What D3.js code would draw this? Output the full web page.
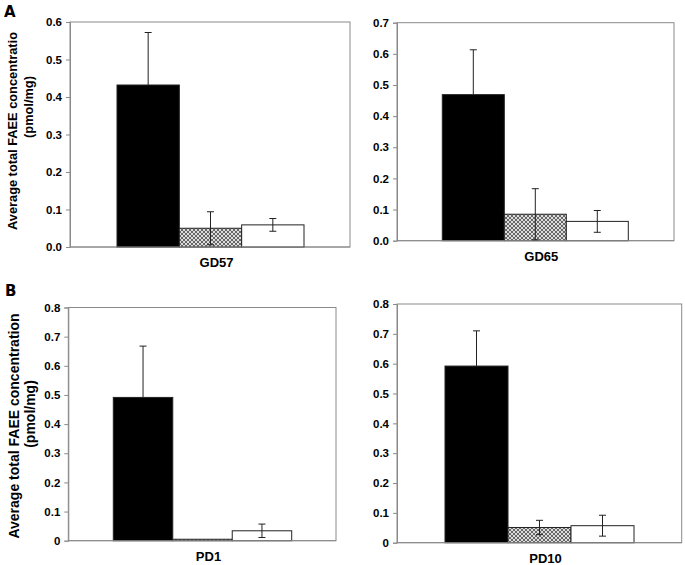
<!DOCTYPE html>
<html>
<head>
<meta charset="utf-8">
<script src="https://cdn.jsdelivr.net/npm/d3@7"></script>
<style>
  body { margin: 0; background: #fff; }
  text { font-family: "Liberation Sans", Arial, sans-serif; font-weight: 700; fill: #000; }
</style>
</head>
<body>
<svg id="chart"></svg>
<script>
// Data
const categories = ["GD57", "GD65", "PD1", "PD10"];
const groups = ["black", "hatch", "white"];
const blackMeans = [0.432, 0.469, 0.4915, 0.592];
const blackErr   = [0.140, 0.144, 0.176, 0.118];
const hatchMeans = [0.050, 0.085, 0.005, 0.051];
const hatchErr   = [0.044, 0.082, 0.000, 0.024];
const whiteMeans = [0.059, 0.062, 0.034, 0.057];
const whiteErr   = [0.017, 0.035, 0.023, 0.035];
const yMax = [0.6, 0.7, 0.8, 0.8];
const yTickStep = 0.1;

const width = 685, height = 565;
const svg = d3.select("#chart").attr("width", width).attr("height", height);

// hatch pattern for the middle bars
const defs = svg.append("defs");
const pat = defs.append("pattern")
    .attr("id", "hatch")
    .attr("patternUnits", "userSpaceOnUse")
    .attr("width", 4).attr("height", 4);
pat.append("rect").attr("width", 4).attr("height", 4).attr("fill", "#dcdcdc");
pat.append("path")
    .attr("d", "M0,0 L4,4 M4,0 L0,4")
    .attr("stroke", "#5a5a5a").attr("stroke-width", 0.9);

// panel layout (frame box and bar span)
const panels = [
    { left: 70,  top: 22,    right: 350,   bottom: 247,   bx0: 117,   bx1: 304,   fmt: "A" },
    { left: 397, top: 22.7,  right: 674,   bottom: 240.7, bx0: 442.3, bx1: 628.3, fmt: "A" },
    { left: 68.3, top: 307.5, right: 336,  bottom: 540.7, bx0: 113.3, bx1: 291.7, fmt: "B" },
    { left: 397, top: 304,   right: 681.7, bottom: 542.7, bx0: 445,   bx1: 634,   fmt: "B" }
];

const frameColor = "#8a8a8a";

panels.forEach(function(p, i) {
    const g = svg.append("g").attr("class", "panel");

    const y = d3.scaleLinear().domain([0, yMax[i]]).range([p.bottom, p.top]);
    const x = d3.scaleBand().domain(groups).range([p.bx0, p.bx1]).padding(0);

    // frame
    g.append("rect")
        .attr("x", p.left).attr("y", p.top)
        .attr("width", p.right - p.left).attr("height", p.bottom - p.top)
        .attr("fill", "none").attr("stroke", frameColor).attr("stroke-width", 1);

    // y axis
    const ticks = d3.range(0, yMax[i] + 1e-9, yTickStep);
    const fmt = p.fmt === "A" ? d3.format(".1f") : (d => d === 0 ? "0" : d3.format(".1f")(d));
    const axis = d3.axisLeft(y).tickValues(ticks).tickSize(4).tickPadding(4).tickFormat(fmt);
    const ag = g.append("g").attr("transform", `translate(${p.left},0)`).call(axis);
    ag.select(".domain").attr("stroke", frameColor);
    ag.selectAll(".tick line").attr("stroke", frameColor);
    ag.selectAll(".tick text")
        .style("font-family", "'Liberation Sans', Arial, sans-serif")
        .style("font-weight", "700").style("font-size", "11.5px").attr("fill", "#000");

    const rows = [
        { key: "black", v: blackMeans[i], e: blackErr[i], fill: "#000" },
        { key: "hatch", v: hatchMeans[i], e: hatchErr[i], fill: "url(#hatch)" },
        { key: "white", v: whiteMeans[i], e: whiteErr[i], fill: "#fff" }
    ];

    g.selectAll(".bar").data(rows).enter().append("rect")
        .attr("class", "bar")
        .attr("x", d => x(d.key))
        .attr("y", d => y(d.v))
        .attr("width", x.bandwidth())
        .attr("height", d => y(0) - y(d.v))
        .attr("fill", d => d.fill)
        .attr("stroke", "#222").attr("stroke-width", 1);

    // bottom axis line on top of bars
    g.append("line")
        .attr("x1", p.left).attr("x2", p.right)
        .attr("y1", p.bottom).attr("y2", p.bottom)
        .attr("stroke", frameColor);

    // error bars (lower half hidden inside the black bars)
    const eb = g.selectAll(".err").data(rows.filter(d => d.e > 0)).enter().append("g").attr("class", "err");
    const cx = d => x(d.key) + x.bandwidth() / 2;
    const lowVal = d => d.key === "black" ? d.v : Math.max(0, d.v - d.e);
    eb.append("line")
        .attr("x1", cx).attr("x2", cx)
        .attr("y1", d => y(lowVal(d))).attr("y2", d => y(d.v + d.e))
        .attr("stroke", "#222").attr("stroke-width", 1);
    eb.append("line")
        .attr("x1", d => cx(d) - 3.5).attr("x2", d => cx(d) + 3.5)
        .attr("y1", d => y(d.v + d.e)).attr("y2", d => y(d.v + d.e))
        .attr("stroke", "#222").attr("stroke-width", 1);
    eb.filter(d => d.key !== "black" && d.v - d.e > 0.003).append("line")
        .attr("x1", d => cx(d) - 3.5).attr("x2", d => cx(d) + 3.5)
        .attr("y1", d => y(d.v - d.e)).attr("y2", d => y(d.v - d.e))
        .attr("stroke", "#222").attr("stroke-width", 1);

    // category label
    g.append("text")
        .attr("x", (p.bx0 + p.bx1) / 2 + 6)
        .attr("y", p.bottom + 20)
        .attr("text-anchor", "middle")
        .style("font-size", "13px")
        .text(categories[i]);
});

// panel letters
svg.append("text").attr("x", 4).attr("y", 17)
    .style("font-family", "'DejaVu Sans', sans-serif").style("font-size", "15px").style("font-weight", "900")
    .text("A");
svg.append("text").attr("x", 5).attr("y", 296)
    .style("font-family", "'DejaVu Sans', sans-serif").style("font-size", "15px").style("font-weight", "900")
    .text("B");

// y axis titles
function yTitle(lines) {
    lines.forEach(function(l) {
        svg.append("text")
            .attr("transform", `translate(${l.x},${l.y}) rotate(-90)`)
            .attr("text-anchor", "middle")
            .style("font-size", l.size + "px")
            .text(l.t);
    });
}
yTitle([
    { t: "Average total FAEE concentratio", x: 17, y: 131, size: 12.8 },
    { t: "(pmol/mg)", x: 33, y: 107, size: 12.8 }
]);
yTitle([
    { t: "Average total FAEE concentration", x: 19, y: 426, size: 14 },
    { t: "(pmol/mg)", x: 35, y: 414, size: 14 }
]);
</script>
</body>
</html>
